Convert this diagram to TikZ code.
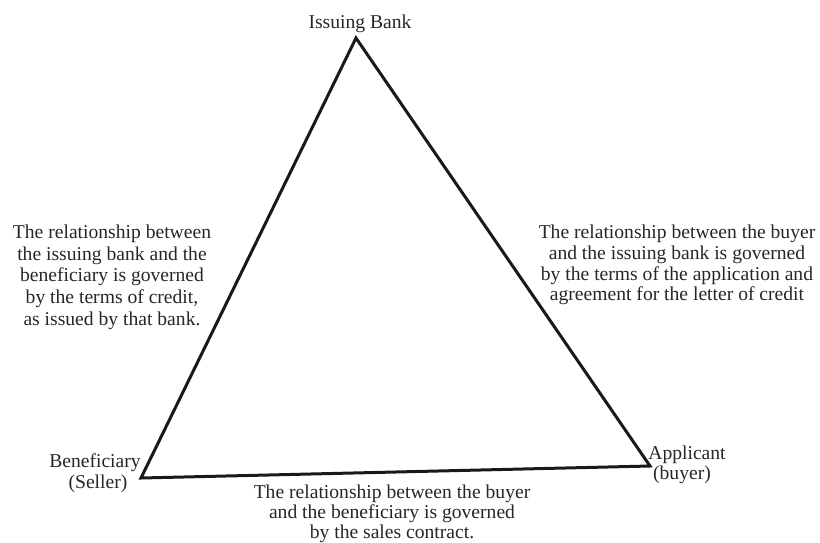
\documentclass[tikz,border=0pt]{standalone}
\usepackage{fontspec}
\setmainfont{Liberation Serif}
\begin{document}
\begin{tikzpicture}[x=1pt,y=-1pt,
  lbl/.style={inner sep=0pt,font=\fontsize{19.6}{21.5}\selectfont,text=black!85},
  blk/.style={lbl,align=center,anchor=north},
  edge/.style={line width=3pt,black!90,line join=miter}]
  % page frame
  \useasboundingbox (0,0) rectangle (820,542);
  % corners of the triangle
  \coordinate (bank) at (356,38);
  \coordinate (seller) at (141,478);
  \coordinate (buyer) at (650,466);
  \draw[edge] (bank) -- (seller) -- (buyer) -- cycle;
  % corner labels
  \node[lbl,anchor=base] (bankLbl) at (360,28) {Issuing Bank};
  \node[lbl,anchor=base] (benLbl) at (95,467) {Beneficiary};
  \node[lbl,anchor=base] (sellerLbl) at (98,488) {(Seller)};
  \node[lbl,anchor=base] (appLbl) at (687,459) {Applicant};
  \node[lbl,anchor=base] (buyLbl) at (682,479) {(buyer)};
  % side descriptions
  \node[blk,font=\fontsize{19.6}{21.7}\selectfont] (leftTxt) at (112,224.6)
    {The relationship between\\the issuing bank and the\\beneficiary is governed\\by the terms of credit,\\as issued by that bank.};
  \node[blk,font=\fontsize{19.6}{20.8}\selectfont] (rightTxt) at (677,224.6)
    {The relationship between the buyer\\and the issuing bank is governed\\by the terms of the application and\\agreement for the letter of credit};
  \node[blk,font=\fontsize{19.6}{20}\selectfont] (bottomTxt) at (392,484.6)
    {The relationship between the buyer\\and the beneficiary is governed\\by the sales contract.};
\end{tikzpicture}
\end{document}
